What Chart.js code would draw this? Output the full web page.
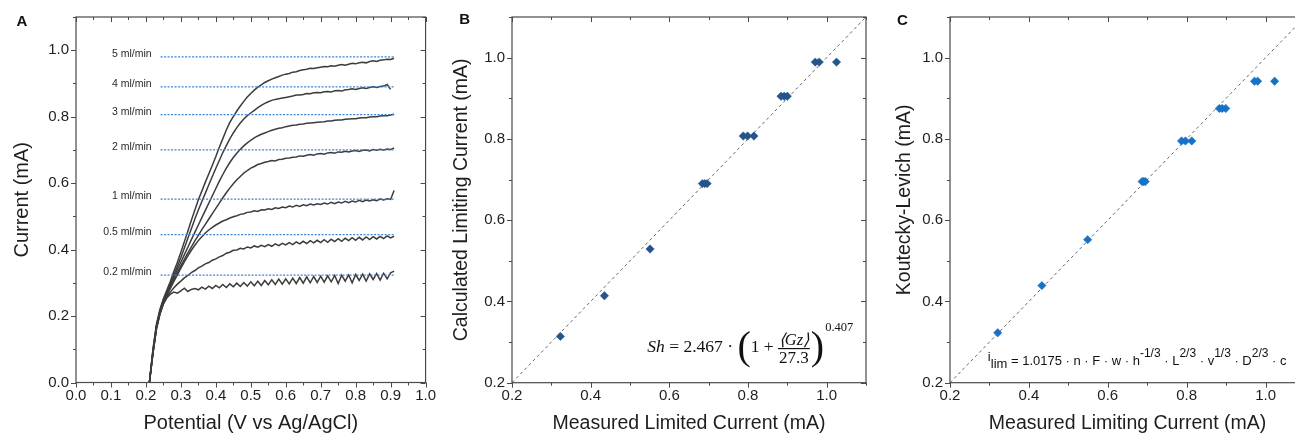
<!DOCTYPE html>
<html>
<head>
<meta charset="utf-8">
<script src="https://cdn.jsdelivr.net/npm/chart.js@4.4.0/dist/chart.umd.min.js"></script>
<style>
  html, body { margin: 0; padding: 0; background: #fff; overflow: hidden; }
  body { width: 1295px; height: 433px; position: relative; }
  canvas { position: absolute; top: 0; }
  #chartA { left: 0; }
  #chartB { left: 440px; }
  #chartC { left: 870px; }
</style>
</head>
<body>
<canvas id="chartA" width="440" height="433"></canvas>
<canvas id="chartB" width="430" height="433"></canvas>
<canvas id="chartC" width="445" height="433"></canvas>
<script>
// ---- panel A: polarisation curves (potential grid shared by all curves) ----
const potential = [
    0.21, 0.22, 0.23, 0.24, 0.25, 0.26, 0.27, 0.28, 0.29, 0.30,
    0.31, 0.32, 0.33, 0.34, 0.35, 0.36, 0.37, 0.38, 0.39, 0.40,
    0.41, 0.42, 0.43, 0.44, 0.45, 0.46, 0.47, 0.48, 0.49, 0.50,
    0.51, 0.52, 0.53, 0.54, 0.55, 0.56, 0.57, 0.58, 0.59, 0.60,
    0.61, 0.62, 0.63, 0.64, 0.65, 0.66, 0.67, 0.68, 0.69, 0.70,
    0.71, 0.72, 0.73, 0.74, 0.75, 0.76, 0.77, 0.78, 0.79, 0.80,
    0.81, 0.82, 0.83, 0.84, 0.85, 0.86, 0.87, 0.88, 0.89, 0.90,
    0.91
];
const current02 = [
    0.000, 0.086, 0.160, 0.205, 0.236, 0.255, 0.266, 0.272, 0.269, 0.276,
    0.284, 0.274, 0.280, 0.283, 0.279, 0.287, 0.281, 0.290, 0.283, 0.292,
    0.285, 0.295, 0.286, 0.297, 0.288, 0.299, 0.289, 0.301, 0.290, 0.303,
    0.291, 0.305, 0.292, 0.307, 0.294, 0.309, 0.295, 0.311, 0.296, 0.312,
    0.297, 0.314, 0.298, 0.316, 0.299, 0.318, 0.300, 0.319, 0.301, 0.320,
    0.302, 0.321, 0.303, 0.322, 0.298, 0.323, 0.305, 0.324, 0.300, 0.325,
    0.307, 0.326, 0.305, 0.327, 0.310, 0.328, 0.308, 0.329, 0.312, 0.330,
    0.335
];
const current05 = [
    0.000, 0.087, 0.161, 0.206, 0.238, 0.258, 0.272, 0.285, 0.296, 0.305,
    0.315, 0.322, 0.331, 0.337, 0.345, 0.350, 0.357, 0.361, 0.368, 0.372,
    0.378, 0.382, 0.389, 0.392, 0.398, 0.399, 0.404, 0.402, 0.408, 0.405,
    0.411, 0.407, 0.413, 0.409, 0.415, 0.410, 0.417, 0.412, 0.419, 0.414,
    0.421, 0.415, 0.423, 0.417, 0.425, 0.418, 0.427, 0.420, 0.428, 0.421,
    0.430, 0.422, 0.431, 0.424, 0.433, 0.425, 0.434, 0.427, 0.436, 0.428,
    0.437, 0.429, 0.438, 0.430, 0.439, 0.432, 0.440, 0.433, 0.441, 0.435,
    0.440
];
const current1 = [
    0.000, 0.088, 0.163, 0.208, 0.240, 0.262, 0.283, 0.304, 0.324, 0.344,
    0.363, 0.381, 0.398, 0.413, 0.427, 0.439, 0.450, 0.459, 0.467, 0.474,
    0.480, 0.486, 0.490, 0.495, 0.499, 0.502, 0.506, 0.508, 0.512, 0.513,
    0.517, 0.515, 0.520, 0.519, 0.523, 0.521, 0.526, 0.524, 0.528, 0.526,
    0.531, 0.528, 0.533, 0.530, 0.535, 0.532, 0.537, 0.534, 0.538, 0.536,
    0.540, 0.537, 0.542, 0.538, 0.543, 0.540, 0.545, 0.541, 0.546, 0.543,
    0.548, 0.544, 0.549, 0.546, 0.550, 0.547, 0.552, 0.549, 0.553, 0.551,
    0.578
];
const current2 = [
    0.000, 0.090, 0.166, 0.211, 0.243, 0.265, 0.288, 0.310, 0.331, 0.351,
    0.371, 0.390, 0.408, 0.426, 0.443, 0.460, 0.476, 0.492, 0.508, 0.524,
    0.540, 0.556, 0.571, 0.585, 0.598, 0.610, 0.620, 0.630, 0.638, 0.645,
    0.650, 0.656, 0.659, 0.663, 0.665, 0.668, 0.667, 0.671, 0.672, 0.675,
    0.676, 0.678, 0.679, 0.682, 0.681, 0.684, 0.686, 0.684, 0.688, 0.689,
    0.687, 0.691, 0.692, 0.690, 0.694, 0.693, 0.696, 0.694, 0.697, 0.698,
    0.695, 0.699, 0.700, 0.697, 0.701, 0.699, 0.702, 0.700, 0.703, 0.701,
    0.706
];
const current3 = [
    0.000, 0.092, 0.168, 0.213, 0.245, 0.268, 0.292, 0.316, 0.340, 0.362,
    0.385, 0.407, 0.430, 0.452, 0.474, 0.496, 0.518, 0.540, 0.562, 0.584,
    0.606, 0.626, 0.645, 0.662, 0.677, 0.690, 0.702, 0.712, 0.721, 0.729,
    0.736, 0.742, 0.747, 0.751, 0.755, 0.759, 0.762, 0.765, 0.767, 0.770,
    0.772, 0.774, 0.775, 0.777, 0.778, 0.780, 0.781, 0.782, 0.783, 0.784,
    0.785, 0.787, 0.787, 0.789, 0.790, 0.790, 0.792, 0.793, 0.794, 0.794,
    0.796, 0.797, 0.797, 0.799, 0.800, 0.800, 0.802, 0.803, 0.803, 0.805,
    0.807
];
const current4 = [
    0.000, 0.095, 0.170, 0.216, 0.248, 0.272, 0.298, 0.325, 0.350, 0.376,
    0.405, 0.434, 0.463, 0.492, 0.519, 0.545, 0.570, 0.595, 0.620, 0.645,
    0.668, 0.692, 0.713, 0.733, 0.751, 0.767, 0.781, 0.793, 0.803, 0.811,
    0.819, 0.827, 0.834, 0.840, 0.845, 0.849, 0.852, 0.854, 0.856, 0.858,
    0.860, 0.862, 0.865, 0.865, 0.867, 0.870, 0.869, 0.872, 0.873, 0.872,
    0.875, 0.876, 0.874, 0.878, 0.879, 0.877, 0.881, 0.882, 0.884, 0.882,
    0.885, 0.887, 0.885, 0.888, 0.890, 0.888, 0.891, 0.892, 0.897, 0.882,
    null
];
const current5 = [
    0.000, 0.100, 0.175, 0.220, 0.252, 0.278, 0.305, 0.335, 0.362, 0.392,
    0.424, 0.455, 0.488, 0.519, 0.550, 0.576, 0.603, 0.628, 0.654, 0.680,
    0.708, 0.734, 0.760, 0.783, 0.800, 0.817, 0.832, 0.846, 0.859, 0.870,
    0.880, 0.889, 0.896, 0.903, 0.908, 0.913, 0.917, 0.921, 0.925, 0.928,
    0.930, 0.934, 0.935, 0.939, 0.941, 0.943, 0.946, 0.945, 0.947, 0.949,
    0.951, 0.950, 0.953, 0.952, 0.955, 0.957, 0.955, 0.958, 0.961, 0.959,
    0.962, 0.964, 0.962, 0.966, 0.968, 0.966, 0.970, 0.971, 0.973, 0.972,
    0.976
];
const flowRates = ["0.2 ml/min", "0.5 ml/min", "1 ml/min", "2 ml/min", "3 ml/min", "4 ml/min", "5 ml/min"];
const limitingLevels = [0.323, 0.445, 0.552, 0.700, 0.806, 0.890, 0.980];
const levelSpan = [0.242, 0.913];

// ---- panel B: Sherwood correlation vs measured ----
const measuredB = [0.323, 0.435, 0.551, 0.684, 0.690, 0.696, 0.788, 0.799, 0.815, 0.884, 0.892, 0.900, 0.971, 0.981, 1.025];
const calculatedB = [0.314, 0.414, 0.529, 0.690, 0.690, 0.690, 0.807, 0.807, 0.807, 0.905, 0.905, 0.905, 0.989, 0.989, 0.989];

// ---- panel C: Koutecky-Levich vs measured ----
const measuredC = [0.321, 0.433, 0.549, 0.687, 0.691, 0.695, 0.787, 0.797, 0.813, 0.883, 0.890, 0.899, 0.972, 0.980, 1.023];
const kouteckyC = [0.323, 0.439, 0.552, 0.695, 0.695, 0.695, 0.795, 0.795, 0.795, 0.875, 0.875, 0.875, 0.942, 0.942, 0.942];

const parity = [0.2, 1.1];

const SANS = "'Liberation Sans', Arial, sans-serif";
const SERIF = "'Liberation Serif', 'Times New Roman', serif";
const TEXT = "#1e1e1e";
const AXIS = "#4a4a4a";

// box frame with outward ticks bottom/left and inward ticks top/right
const framePlugin = {
    id: "frame",
    afterDraw(chart, args, opts) {
        const { ctx, chartArea: a, scales } = chart;
        ctx.save();
        ctx.strokeStyle = AXIS;
        ctx.lineWidth = 1.2;
        ctx.strokeRect(a.left, a.top, a.right - a.left, a.bottom - a.top);
        ctx.lineWidth = 1;
        ctx.beginPath();
        scales.x.ticks.forEach(t => {
            const p = Math.round(scales.x.getPixelForValue(t.value)) + 0.5;
            const len = t.label !== "" ? 5 : 3;
            ctx.moveTo(p, a.bottom); ctx.lineTo(p, a.bottom + len);
            ctx.moveTo(p, a.top); ctx.lineTo(p, a.top + len);
        });
        scales.y.ticks.forEach(t => {
            const p = Math.round(scales.y.getPixelForValue(t.value)) + 0.5;
            const len = t.label !== "" ? 5 : 3;
            ctx.moveTo(a.left, p); ctx.lineTo(a.left - len, p);
            ctx.moveTo(a.right, p); ctx.lineTo(a.right - len, p);
        });
        ctx.stroke();
        if (opts.letter) {
            ctx.fillStyle = "#111";
            ctx.font = "bold 15px " + SANS;
            ctx.textBaseline = "alphabetic";
            ctx.fillText(opts.letter, opts.lx, opts.ly);
        }
        ctx.restore();
    }
};
Chart.register(framePlugin);

function tickFont() { return { family: SANS, size: 15 }; }
function titleOpts(text, pad, size) {
    return { display: true, text: text, color: TEXT,
             font: { family: SANS, size: size || 19.5, lineHeight: 1 },
             padding: { top: pad, bottom: 0 } };
}
function evenLabel(v) {
    return Math.round(v * 10) % 2 === 0 ? v.toFixed(1) : "";
}

// ---------------- chart A ----------------
const flowLabelPlugin = {
    id: "flowLabels",
    afterDatasetsDraw(chart) {
        const { ctx, scales } = chart;
        ctx.save();
        ctx.fillStyle = "#2a2a2a";
        ctx.font = "10.5px " + SANS;
        ctx.textAlign = "right";
        ctx.textBaseline = "middle";
        limitingLevels.forEach((lvl, i) => {
            const x = scales.x.getPixelForValue(levelSpan[0]) - 9;
            const y = scales.y.getPixelForValue(lvl) - 3;
            ctx.fillText(flowRates[i], x, y);
        });
        ctx.restore();
    }
};

const curveSets = [current02, current05, current1, current2, current3, current4, current5];
const datasetsA = [];
limitingLevels.forEach(lvl => {
    datasetsA.push({
        data: [{ x: levelSpan[0], y: lvl }, { x: levelSpan[1], y: lvl }],
        borderColor: "#3a84d8",
        borderWidth: 1.3,
        borderDash: [2, 1.5],
        pointRadius: 0
    });
});
curveSets.forEach(ys => {
    datasetsA.push({
        data: potential.map((x, i) => ({ x: x, y: ys[i] })),
        borderColor: "#3c3c3c",
        borderWidth: 1.5,
        pointRadius: 0,
        tension: 0
    });
});

new Chart(document.getElementById("chartA"), {
    type: "line",
    data: { datasets: datasetsA },
    options: {
        responsive: false,
        animation: false,
        layout: { padding: { top: 17, right: 9, left: 0, bottom: 0 }, autoPadding: false },
        plugins: {
            legend: { display: false },
            tooltip: { enabled: false },
            frame: { letter: "A", lx: 16.5, ly: 25.5 }
        },
        scales: {
            x: {
                type: "linear", min: 0, max: 1,
                grid: { display: false, drawTicks: false },
                border: { display: false },
                ticks: {
                    stepSize: 0.05, autoSkip: false, maxRotation: 0, padding: 4,
                    color: TEXT, font: tickFont(),
                    callback: v => Math.round(v * 20) % 2 === 0 ? v.toFixed(1) : ""
                },
                title: titleOpts("Potential (V vs Ag/AgCl)", 0, 20),
                afterFit: s => { s.height = 50.5; }
            },
            y: {
                type: "linear", min: 0, max: 1.1,
                grid: { display: false, drawTicks: false },
                border: { display: false },
                ticks: { stepSize: 0.1, autoSkip: false, padding: 7, color: TEXT, font: tickFont(), callback: evenLabel },
                title: titleOpts("Current (mA)", 12.5, 20),
                afterFit: s => { s.width = 76; }
            }
        }
    },
    plugins: [flowLabelPlugin]
});

// ---------------- chart B ----------------
const sherwoodPlugin = {
    id: "sherwood",
    afterDatasetsDraw(chart) {
        const { ctx, scales } = chart;
        let x = scales.x.getPixelForValue(0.544);
        const y = scales.y.getPixelForValue(0.2766);
        ctx.save();
        ctx.fillStyle = "#111";
        ctx.textBaseline = "alphabetic";
        ctx.textAlign = "left";
        ctx.font = "italic 17.5px " + SERIF;
        ctx.fillText("Sh", x, y);
        x += ctx.measureText("Sh").width;
        ctx.font = "17.5px " + SERIF;
        const mid = " = 2.467 \u00b7 ";
        ctx.fillText(mid, x, y);
        x += ctx.measureText(mid).width;
        ctx.font = "40px " + SERIF;
        ctx.fillText("(", x, y + 7.5);
        x += ctx.measureText("(").width;
        ctx.font = "17.5px " + SERIF;
        ctx.fillText("1 + ", x, y);
        x += ctx.measureText("1 + ").width;
        // fraction
        const bar = y - 3;
        ctx.font = "17px " + SERIF;
        const den = "27.3";
        const w = ctx.measureText(den).width + 2;
        ctx.textAlign = "center";
        ctx.fillText(den, x + w / 2, bar + 14.5);
        ctx.font = "italic 16.5px " + SERIF;
        ctx.fillText("\u27e8Gz\u27e9", x + w / 2, bar - 3.5);
        ctx.fillRect(x, bar - 0.6, w, 1.2);
        x += w + 1;
        ctx.textAlign = "left";
        ctx.font = "40px " + SERIF;
        ctx.fillText(")", x, y + 7.5);
        x += ctx.measureText(")").width + 1;
        ctx.font = "12.5px " + SERIF;
        ctx.fillText("0.407", x, y - 21);
        ctx.restore();
    }
};

function parityDataset() {
    return {
        type: "line",
        data: [{ x: parity[0], y: parity[0] }, { x: parity[1], y: parity[1] }],
        borderColor: "#666",
        borderWidth: 1,
        borderDash: [3, 3],
        pointRadius: 0,
        order: 2
    };
}

function scatterScales(yTitle, yPad, yWidth, xTitle) {
    return {
        x: {
            type: "linear", min: 0.2, max: 1.1,
            grid: { display: false, drawTicks: false },
            border: { display: false },
            ticks: { stepSize: 0.1, autoSkip: false, maxRotation: 0, padding: 4, color: TEXT, font: tickFont(), callback: evenLabel },
            title: titleOpts(xTitle, 0),
            afterFit: s => { s.height = 50.3; }
        },
        y: {
            type: "linear", min: 0.2, max: 1.1,
            grid: { display: false, drawTicks: false },
            border: { display: false },
            ticks: { stepSize: 0.1, autoSkip: false, padding: 7, color: TEXT, font: tickFont(), callback: evenLabel },
            title: titleOpts(yTitle, yPad),
            afterFit: s => { s.width = yWidth; }
        }
    };
}

new Chart(document.getElementById("chartB"), {
    type: "scatter",
    data: {
        datasets: [
            {
                data: measuredB.map((m, i) => ({ x: m, y: calculatedB[i] })),
                backgroundColor: "#22558c",
                borderColor: "#22558c",
                pointStyle: "rectRot",
                pointRadius: 4.2,
                borderWidth: 0.5,
                order: 1
            },
            parityDataset()
        ]
    },
    options: {
        responsive: false,
        animation: false,
        layout: { padding: { top: 17, right: 2.3, left: 0, bottom: 0 }, autoPadding: false },
        plugins: {
            legend: { display: false },
            tooltip: { enabled: false },
            frame: { letter: "B", lx: 19.3, ly: 24 }
        },
        scales: scatterScales("Calculated Limiting Current (mA)", 12, 72, "Measured Limited Current (mA)")
    },
    plugins: [sherwoodPlugin]
});

// ---------------- chart C ----------------
const levichPlugin = {
    id: "levich",
    afterDatasetsDraw(chart) {
        const { ctx, scales } = chart;
        let x = scales.x.getPixelForValue(0.296);
        const y = scales.y.getPixelForValue(0.2437);
        ctx.save();
        ctx.fillStyle = "#111";
        ctx.textBaseline = "alphabetic";
        const parts = [
            ["i", 13, -4], ["lim", 13, 3.5], [" = 1.0175 \u00b7 n \u00b7 F \u00b7 w \u00b7 h", 13, 0],
            ["-1/3", 12, -8], [" \u00b7 L", 13, 0], ["2/3", 12, -8], [" \u00b7 v", 13, 0],
            ["1/3", 12, -8], [" \u00b7 D", 13, 0], ["2/3", 12, -8], [" \u00b7 c", 13, 0]
        ];
        parts.forEach(p => {
            ctx.font = p[1] + "px " + SANS;
            ctx.fillText(p[0], x, y + p[2]);
            x += ctx.measureText(p[0]).width;
        });
        ctx.restore();
    }
};

new Chart(document.getElementById("chartC"), {
    type: "scatter",
    data: {
        datasets: [
            {
                data: measuredC.map((m, i) => ({ x: m, y: kouteckyC[i] })),
                backgroundColor: "#1672c6",
                borderColor: "#1672c6",
                pointStyle: "rectRot",
                pointRadius: 4.2,
                borderWidth: 0.5,
                order: 1
            },
            parityDataset()
        ]
    },
    options: {
        responsive: false,
        animation: false,
        layout: { padding: { top: 17, right: 10, left: 0, bottom: 0 }, autoPadding: false },
        plugins: {
            legend: { display: false },
            tooltip: { enabled: false },
            frame: { letter: "C", lx: 27, ly: 25 }
        },
        scales: scatterScales("Koutecky-Levich (mA)", 25, 80, "Measured Limiting Current (mA)")
    },
    plugins: [levichPlugin]
});
</script>
</body>
</html>
